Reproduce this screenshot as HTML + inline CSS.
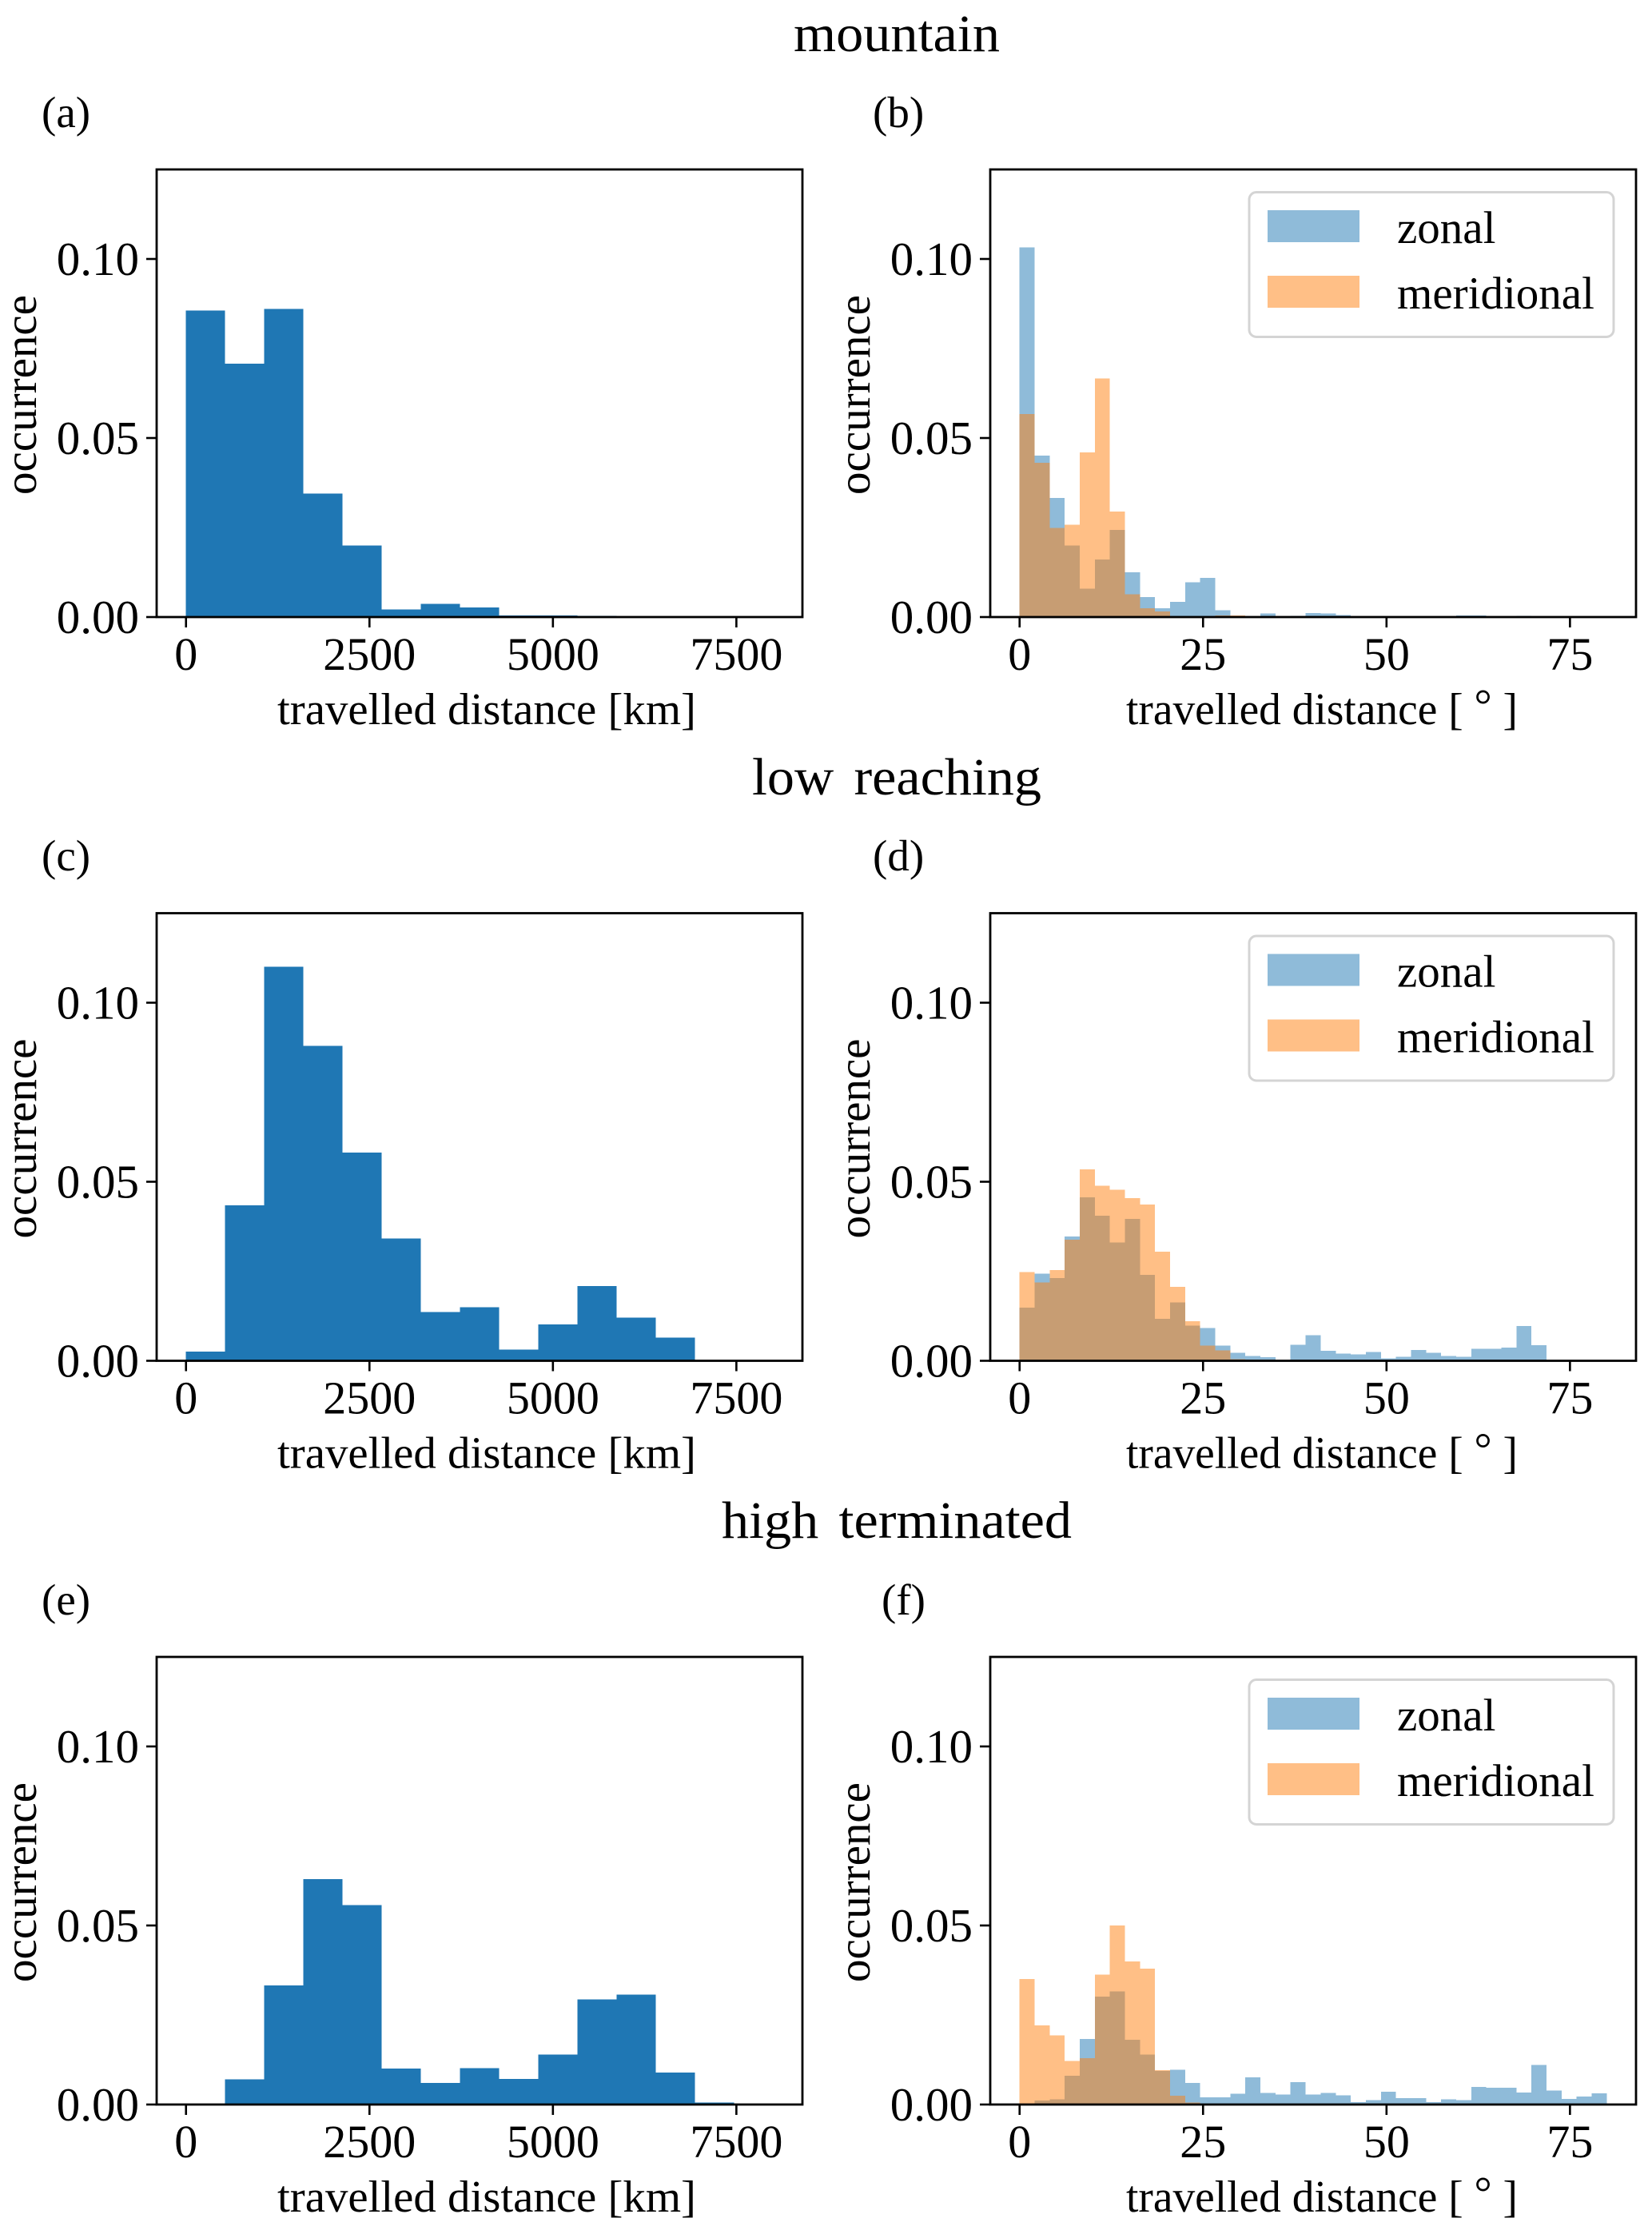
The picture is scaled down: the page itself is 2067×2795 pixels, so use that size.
<!DOCTYPE html>
<html lang="en">
<head>
<meta charset="utf-8">
<title>Travelled distance histograms</title>
<style>
  html, body { margin: 0; padding: 0; background: #fff; }
  svg { display: block; }
  text { font-family: "Liberation Serif", serif; fill: #000; }
</style>
</head>
<body>
<svg id="figure" xmlns="http://www.w3.org/2000/svg" width="2067" height="2795" viewBox="0 0 2067 2795">
  <rect x="0" y="0" width="2067" height="2795" fill="#ffffff"/>
  <text x="1122" y="64" font-size="66" text-anchor="middle" textLength="258" lengthAdjust="spacingAndGlyphs">mountain</text>
  <text x="1122" y="994" font-size="66" text-anchor="middle" word-spacing="8" textLength="362" lengthAdjust="spacingAndGlyphs">low reaching</text>
  <text x="1122" y="1924" font-size="66" text-anchor="middle" word-spacing="8" textLength="438" lengthAdjust="spacingAndGlyphs">high terminated</text>
  <text x="52" y="159" font-size="55">(a)</text>
  <text x="1092" y="159" font-size="55">(b)</text>
  <text x="52" y="1089" font-size="55">(c)</text>
  <text x="1092" y="1089" font-size="55">(d)</text>
  <text x="52" y="2020" font-size="55">(e)</text>
  <text x="1103" y="2020" font-size="55">(f)</text>
</svg>
<script>
// Occurrence per bin. Distance panels: 15 bins over 0-8000 km.
const mountainKm = [0.0856,0.0708,0.0861,0.0345,0.0200,0.0021,0.0037,0.0027,0.0005,0.0005,0.0003,0,0,0,0];
const lowReachingKm = [0.0026,0.0434,0.1101,0.0880,0.0582,0.0341,0.0136,0.0150,0.0031,0.0102,0.0209,0.0120,0.0065,0.0002,0];
const highTerminatedKm = [0,0.0070,0.0333,0.0630,0.0557,0.0101,0.0060,0.0102,0.0071,0.0139,0.0294,0.0307,0.0089,0.0006,0];

// Degree panels: 39 bins over 0-80 degrees.
const mountainZonal = [0.1032,0.0451,0.0333,0.0200,0.0079,0.0161,0.0243,0.0125,0.0056,0.0025,0.0042,0.0097,0.0109,0.0019,0.0002,0.0002,0.0010,0,0.0003,0.0011,0.0010,0.0006,0,0,0,0,0,0,0,0.0005,0.0005,0,0,0.0003,0,0,0,0,0];
const mountainMeridional = [0.0567,0.0431,0.0249,0.0258,0.0460,0.0666,0.0295,0.0064,0.0025,0.0016,0,0,0.0002,0.0004,0.0004,0,0,0,0,0,0,0,0,0,0,0,0,0,0,0,0,0,0,0,0,0,0,0,0];
const lowReachingZonal = [0.0148,0.0243,0.0231,0.0347,0.0457,0.0405,0.0330,0.0396,0.0240,0.0117,0.0163,0.0098,0.0092,0.0042,0.0022,0.0013,0.0010,0,0.0045,0.0071,0.0028,0.0020,0.0018,0.0024,0.0007,0.0011,0.0030,0.0022,0.0013,0.0011,0.0033,0.0033,0.0037,0.0097,0.0043,0,0.0001,0,0];
const lowReachingMeridional = [0.0248,0.0219,0.0253,0.0338,0.0535,0.0489,0.0478,0.0454,0.0436,0.0305,0.0206,0.0111,0.0042,0.0029,0.0004,0.0003,0.0003,0,0,0,0,0,0,0,0,0,0,0,0,0,0,0,0,0,0,0,0,0,0];
const highTerminatedZonal = [0,0.0011,0.0014,0.0080,0.0183,0.0301,0.0316,0.0181,0.0139,0.0094,0.0097,0.0060,0.0020,0.0020,0.0030,0.0076,0.0032,0.0028,0.0062,0.0028,0.0032,0.0026,0.0007,0.0012,0.0036,0.0018,0.0018,0.0007,0.0015,0.0012,0.0049,0.0047,0.0047,0.0033,0.0111,0.0039,0.0016,0.0022,0.0031];
const highTerminatedMeridional = [0.0350,0.0221,0.0193,0.0122,0.0129,0.0363,0.0500,0.0399,0.0379,0.0096,0.0024,0.0006,0,0,0,0,0,0,0,0,0,0,0,0,0,0,0,0,0,0,0,0,0,0,0,0,0,0,0];

// Axis tick values and labels.
const yTicks = [0, 0.05, 0.10];
const yTickLabels = ['0.00', '0.05', '0.10'];
const kmTicks = [0, 2500, 5000, 7500];
const kmTickLabels = ['0', '2500', '5000', '7500'];
const degreeTicks = [0, 25, 50, 75];
const degreeTickLabels = ['0', '25', '50', '75'];
const legendLabels = ['zonal', 'meridional'];

// Axis domains.
const yMax = 0.125;
const kmMax = 8000;
const degreeMax = 80;

// Layout.
const SVG_NS = 'http://www.w3.org/2000/svg';
const AXES_WIDTH = 808;
const AXES_HEIGHT = 560;
const LEFT_COLUMN = 196;
const RIGHT_COLUMN = 1239;
const FIRST_ROW = 212;
const ROW_STEP = 930.5;
const BLUE = '#1f77b4';
const ORANGE = '#ff7f0e';
const figure = document.getElementById('figure');

function make(parent, tag, attrs, content) {
  const node = document.createElementNS(SVG_NS, tag);
  for (const key in attrs) node.setAttribute(key, attrs[key]);
  if (content !== undefined) node.textContent = content;
  parent.appendChild(node);
  return node;
}

function makeXScale(left, domainMax) {
  const plotWidth = AXES_WIDTH / 1.1;
  const origin = left + AXES_WIDTH * (0.05 / 1.1);
  return function (value) { return origin + value / domainMax * plotWidth; };
}

function makeYScale(top) {
  return function (value) { return top + AXES_HEIGHT - value / yMax * AXES_HEIGHT; };
}

function drawBars(group, values, domainMax, xScale, yScale, color, opacity, seriesName) {
  const binWidth = domainMax / values.length;
  values.forEach(function (value, index) {
    if (value <= 0) return;
    const x0 = xScale(index * binWidth);
    const x1 = xScale((index + 1) * binWidth);
    const y0 = yScale(value);
    const bar = make(group, 'rect', {
      x: x0, y: y0, width: x1 - x0, height: yScale(0) - y0,
      fill: color, 'fill-opacity': opacity, 'shape-rendering': 'crispEdges'
    });
    
    
  });
}

function drawAxes(group, left, top, xScale, yScale, ticks, tickLabels, panelName) {
  const bottom = top + AXES_HEIGHT;

  yTicks.forEach(function (tick, index) {
    const y = yScale(tick);
    const mark = make(group, 'line', { x1: left - 13, x2: left, y1: y, y2: y, stroke: '#000', 'stroke-width': 2.6 });
    
    
    const label = make(group, 'text', { x: left - 22, y: y + 20, 'font-size': 59, 'text-anchor': 'end' }, yTickLabels[index]);
    
    
  });

  ticks.forEach(function (tick, index) {
    const x = xScale(tick);
    const mark = make(group, 'line', { x1: x, x2: x, y1: bottom, y2: bottom + 13, stroke: '#000', 'stroke-width': 2.6 });
    
    
    const label = make(group, 'text', { x: x, y: bottom + 66, 'font-size': 58, 'text-anchor': 'middle' }, tickLabels[index]);
    
    
  });

  const titleX = left - 151;
  const titleY = top + AXES_HEIGHT / 2 + 2;
  const yAxisTitle = make(group, 'text', {
    x: titleX, y: titleY, 'font-size': 57, 'text-anchor': 'middle',
    transform: 'rotate(-90 ' + titleX + ' ' + titleY + ')'
  }, 'occurrence');
  
  

  const frame = make(group, 'rect', {
    x: left, y: top, width: AXES_WIDTH, height: AXES_HEIGHT,
    fill: 'none', stroke: '#000', 'stroke-width': 2.8
  });
  
  
}

function drawLegend(group, left, top) {
  const box = make(group, 'rect', {
    x: left + 324, y: top + 28.5, width: 456, height: 181, rx: 9,
    fill: '#ffffff', 'fill-opacity': 0.8, stroke: '#d4d4d4', 'stroke-width': 3
  });
  
  

  const zonalPatch = make(group, 'rect', { x: left + 347, y: top + 51, width: 115, height: 40, fill: BLUE, 'fill-opacity': 0.5 });
  
  
  const zonalText = make(group, 'text', { x: left + 509, y: top + 92, 'font-size': 57 }, legendLabels[0]);
  
  

  const meridionalPatch = make(group, 'rect', { x: left + 347, y: top + 133, width: 115, height: 40, fill: ORANGE, 'fill-opacity': 0.5 });
  
  
  const meridionalText = make(group, 'text', { x: left + 509, y: top + 174, 'font-size': 57 }, legendLabels[1]);
  
  
}

function drawKmPanel(panelName, row, values) {
  const top = FIRST_ROW + row * ROW_STEP;
  const xScale = makeXScale(LEFT_COLUMN, kmMax);
  const yScale = makeYScale(top);
  const group = make(figure, 'g', {});
  
  
  drawBars(group, values, kmMax, xScale, yScale, BLUE, 1, 'distance');
  drawAxes(group, LEFT_COLUMN, top, xScale, yScale, kmTicks, kmTickLabels, panelName);
  const xTitle = make(group, 'text', {
    x: LEFT_COLUMN + AXES_WIDTH / 2 + 9, y: top + AXES_HEIGHT + 134, 'font-size': 56, 'text-anchor': 'middle',
    textLength: 524, lengthAdjust: 'spacingAndGlyphs'
  }, 'travelled distance [km]');
  
  
}

function drawDegreePanel(panelName, row, zonal, meridional) {
  const top = FIRST_ROW + row * ROW_STEP;
  const xScale = makeXScale(RIGHT_COLUMN, degreeMax);
  const yScale = makeYScale(top);
  const group = make(figure, 'g', {});
  
  
  drawBars(group, zonal, degreeMax, xScale, yScale, BLUE, 0.5, 'zonal');
  drawBars(group, meridional, degreeMax, xScale, yScale, ORANGE, 0.5, 'meridional');
  drawAxes(group, RIGHT_COLUMN, top, xScale, yScale, degreeTicks, degreeTickLabels, panelName);
  const xTitle = make(group, 'text', {
    x: RIGHT_COLUMN + AXES_WIDTH / 2 + 11, y: top + AXES_HEIGHT + 134, 'font-size': 56, 'text-anchor': 'middle',
    textLength: 490, lengthAdjust: 'spacingAndGlyphs'
  }, 'travelled distance [ ');
  
  
  const degreeRing = make(xTitle, 'tspan', { dy: -5 }, '°');
  
  
  const closing = make(xTitle, 'tspan', { dy: 5 }, ' ]');
  
  
  drawLegend(group, RIGHT_COLUMN, top);
}

drawKmPanel('a', 0, mountainKm);
drawDegreePanel('b', 0, mountainZonal, mountainMeridional);
drawKmPanel('c', 1, lowReachingKm);
drawDegreePanel('d', 1, lowReachingZonal, lowReachingMeridional);
drawKmPanel('e', 2, highTerminatedKm);
drawDegreePanel('f', 2, highTerminatedZonal, highTerminatedMeridional);
</script>
</body>
</html>
